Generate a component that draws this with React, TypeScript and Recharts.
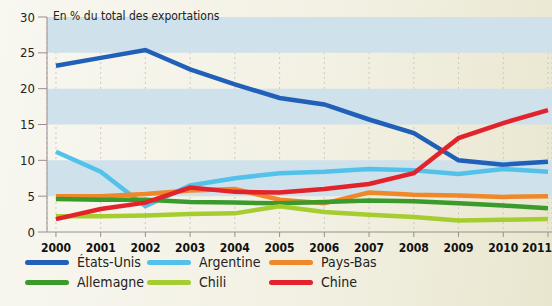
import React from "react"
import {
  LineChart,
  Line,
  XAxis,
  YAxis,
  CartesianGrid,
  ReferenceArea,
} from "recharts"

// Years on the x axis
const years = [2000, 2001, 2002, 2003, 2004, 2005, 2006, 2007, 2008, 2009, 2010, 2011]

// Share of total exports, in %
const etatsUnis = [23.2, 24.3, 25.4, 22.7, 20.6, 18.7, 17.8, 15.7, 13.8, 10.0, 9.4, 9.8]
const argentine = [11.2, 8.4, 3.6, 6.5, 7.5, 8.2, 8.4, 8.8, 8.6, 8.1, 8.8, 8.4]
const paysBas = [5.0, 5.0, 5.3, 5.8, 6.0, 4.5, 4.0, 5.5, 5.2, 5.1, 4.9, 5.0]
const allemagne = [4.6, 4.5, 4.5, 4.2, 4.1, 4.0, 4.2, 4.4, 4.3, 4.0, 3.7, 3.3]
const chili = [2.2, 2.2, 2.3, 2.5, 2.6, 3.6, 2.8, 2.4, 2.1, 1.6, 1.7, 1.8]
const chine = [1.8, 3.2, 4.1, 6.2, 5.6, 5.5, 6.0, 6.7, 8.2, 13.1, 15.2, 17.0]

const yTicks = [0, 5, 10, 15, 20, 25, 30]
const bands = [
  [5, 10],
  [15, 20],
  [25, 30],
]

const series = [
  { key: "etatsUnis", name: "États-Unis", color: "#2160b8", values: etatsUnis },
  { key: "argentine", name: "Argentine", color: "#52c2ea", values: argentine },
  { key: "paysBas", name: "Pays-Bas", color: "#f0882a", values: paysBas },
  { key: "allemagne", name: "Allemagne", color: "#3b9a2c", values: allemagne },
  { key: "chili", name: "Chili", color: "#a6cd30", values: chili },
  { key: "chine", name: "Chine", color: "#e2232b", values: chine },
]

const data = years.map((year, i) => {
  const row: Record<string, number> = { year }
  series.forEach((s) => {
    row[s.key] = s.values[i]
  })
  return row
})

const font = "'DejaVu Sans Condensed', 'Liberation Sans Narrow', sans-serif"

// keeps the last year label inside the picture
function YearTick(props: any) {
  const { x, y, payload } = props
  const clampX = Math.min(x, 552 - 15)
  return (
    <text
      x={clampX}
      y={y + 13}
      textAnchor="middle"
      fill="#111"
      fontSize={12}
      fontWeight={700}
      fontFamily={font}
    >
      {payload.value}
    </text>
  )
}

export default function App() {
  return (
    <div
      style={{
        position: "absolute",
        left: 0,
        top: 0,
        width: 552,
        height: 306,
        overflow: "hidden",
        fontFamily: font,
        background: "linear-gradient(100deg, #f8f7f0 0%, #f3f1e4 55%, #e9e6cf 100%)",
      }}
    >
      <LineChart
        width={552}
        height={306}
        data={data}
        margin={{ top: 17, right: 0, bottom: 44, left: 0 }}
      >
        {bands.map(([y1, y2]) => (
          <ReferenceArea
            key={y1}
            y1={y1}
            y2={y2}
            fill="#cfe1ea"
            fillOpacity={1}
            stroke="none"
            ifOverflow="hidden"
          />
        ))}
        <CartesianGrid
          horizontal={false}
          vertical
          strokeDasharray="2 3"
          stroke="#c9c9c9"
        />
        <XAxis
          dataKey="year"
          type="number"
          domain={[1999.8, 2011.09]}
          ticks={years}
          interval={0}
          allowDataOverflow
          height={30}
          stroke="#9c8c8c"
          tickSize={5}
          tickLine={{ stroke: "#9c8c8c" }}
          tick={<YearTick />}
          tickMargin={2}
        />
        <YAxis
          domain={[0, 30]}
          ticks={yTicks}
          interval={0}
          width={47}
          stroke="#9c8c8c"
          tickSize={9}
          tick={{ fill: "#222", fontSize: 13, fontFamily: font }}
          tickMargin={3}
        />
        {series.map((s) => (
          <Line
            key={s.key}
            type="linear"
            dataKey={s.key}
            name={s.name}
            stroke={s.color}
            strokeWidth={4.5}
            dot={false}
            isAnimationActive={false}
          />
        ))}
      </LineChart>
      <div
        style={{
          position: "absolute",
          left: 53,
          top: 9,
          fontSize: 12,
          color: "#222",
        }}
      >
        En % du total des exportations
      </div>
      {series.map((s, i) => (
        <div
          key={s.key}
          style={{
            position: "absolute",
            left: 25 + (i % 3) * 122,
            top: 254 + Math.floor(i / 3) * 20,
            display: "flex",
            alignItems: "center",
            fontSize: 14,
            color: "#222",
          }}
        >
          <span
            style={{
              display: "inline-block",
              width: 44,
              height: 5,
              borderRadius: 3,
              background: s.color,
              marginRight: 8,
            }}
          />
          {s.name}
        </div>
      ))}
    </div>
  )
}
